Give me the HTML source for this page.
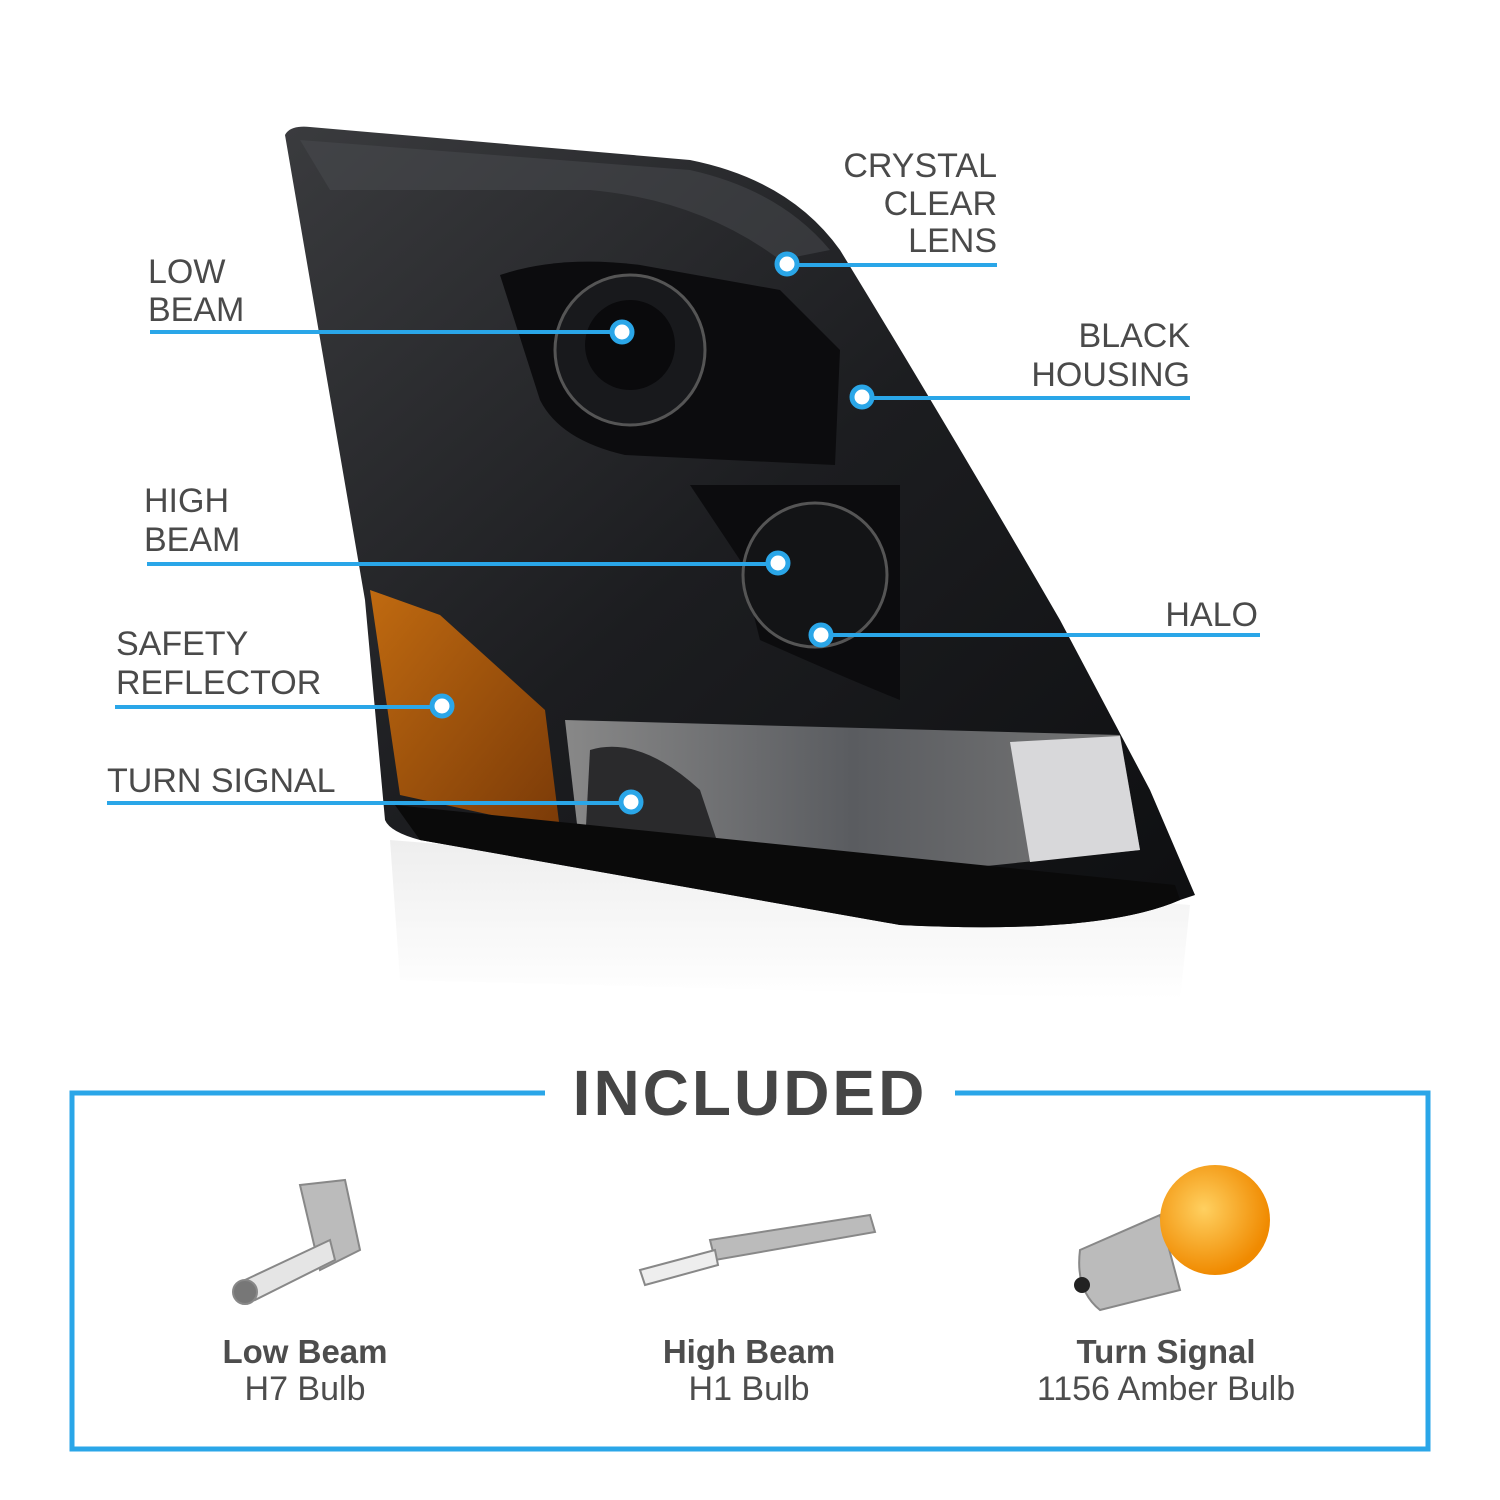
<!DOCTYPE html>
<html><head><meta charset="utf-8"><style>
body{margin:0;background:#fff;}
svg{display:block}
.l{font-family:"Liberation Sans",sans-serif;font-size:34px;fill:#4a4a4a;}
.b{font-family:"Liberation Sans",sans-serif;font-size:33px;font-weight:bold;fill:#4d4d4d;}
.n{font-family:"Liberation Sans",sans-serif;font-size:34px;fill:#4d4d4d;}
</style></head><body>
<svg width="1500" height="1500" viewBox="0 0 1500 1500" xmlns="http://www.w3.org/2000/svg">
<defs>
<linearGradient id="g1" x1="0" y1="0" x2="1" y2="1">
<stop offset="0" stop-color="#3a3b3e"/><stop offset="0.5" stop-color="#1c1d20"/><stop offset="1" stop-color="#0e0f11"/></linearGradient>
<linearGradient id="am" x1="0" y1="0" x2="1" y2="1"><stop offset="0" stop-color="#c06a10"/><stop offset="1" stop-color="#7a3a08"/></linearGradient>
<radialGradient id="ob" cx="0.4" cy="0.4" r="0.6"><stop offset="0" stop-color="#ffd060"/><stop offset="1" stop-color="#f08a00"/></radialGradient>
<linearGradient id="rf" x1="0" y1="0" x2="0" y2="1"><stop offset="0" stop-color="#eee"/><stop offset="1" stop-color="#fff"/></linearGradient>
<linearGradient id="cl" x1="0" y1="0" x2="1" y2="0"><stop offset="0" stop-color="#888"/><stop offset="0.5" stop-color="#5a5c60"/><stop offset="1" stop-color="#777"/></linearGradient>
</defs>
<path d="M390 840 L1190 905 L1180 1000 L400 980 Z" fill="url(#rf)"/>
<path d="M285 135 Q290 125 310 127 L690 160 Q790 180 840 250 Q950 430 1060 620 L1150 790 L1195 895 L1180 900 Q1100 935 900 925 L420 840 Q390 832 385 820 L365 600 Z" fill="url(#g1)"/>
<path d="M300 140 L690 170 Q780 190 830 250 L780 260 Q700 200 590 190 L330 190 Z" fill="#4a4c50" opacity="0.5"/>
<path d="M500 275 Q560 255 640 265 L780 290 L840 350 L835 465 L625 455 Q560 440 540 400 Z" fill="#0c0c0e"/>
<circle cx="630" cy="350" r="75" fill="#18191c" stroke="#555" stroke-width="3"/>
<circle cx="630" cy="345" r="45" fill="#0a0a0c"/>
<path d="M690 485 L900 485 L900 700 Q850 680 760 640 L740 560 Z" fill="#0c0c0e"/>
<circle cx="815" cy="575" r="72" fill="#131416" stroke="#555" stroke-width="3"/>
<path d="M370 590 L440 615 L545 710 L560 830 L400 795 Z" fill="url(#am)"/>
<path d="M565 720 L1120 735 L1140 850 L900 875 L580 850 Z" fill="url(#cl)"/>
<path d="M1010 742 L1120 736 L1140 850 L1030 862 Z" fill="#d8d8da"/>
<path d="M590 750 Q640 735 700 790 L720 850 L585 845 Z" fill="#2a2a2c"/>
<path d="M395 805 L1175 885 L1180 900 Q1100 935 900 925 L420 840 Z" fill="#0a0a0a"/>
<g stroke="#2aa6e8" stroke-width="4" fill="none">
<line x1="150" y1="332" x2="622" y2="332"/>
<line x1="787" y1="265" x2="997" y2="265"/>
<line x1="862" y1="398" x2="1190" y2="398"/>
<line x1="147" y1="564" x2="778" y2="564"/>
<line x1="821" y1="635" x2="1260" y2="635"/>
<line x1="115" y1="707" x2="442" y2="707"/>
<line x1="107" y1="803" x2="631" y2="803"/>
</g>
<g fill="#fff" stroke="#2aa6e8" stroke-width="5">
<circle cx="622" cy="332" r="10"/><circle cx="787" cy="264" r="10"/>
<circle cx="862" cy="397" r="10"/><circle cx="778" cy="563" r="10"/>
<circle cx="821" cy="635" r="10"/><circle cx="442" cy="706" r="10"/>
<circle cx="631" cy="802" r="10"/>
</g>
<text class="l" x="148" y="283">LOW</text><text class="l" x="148" y="321">BEAM</text>
<g text-anchor="end"><text class="l" x="997" y="177">CRYSTAL</text><text class="l" x="997" y="215">CLEAR</text><text class="l" x="997" y="252">LENS</text>
<text class="l" x="1190" y="347">BLACK</text><text class="l" x="1190" y="386">HOUSING</text>
<text class="l" x="1258" y="626">HALO</text></g>
<text class="l" x="144" y="512">HIGH</text><text class="l" x="144" y="551">BEAM</text>
<text class="l" x="116" y="655">SAFETY</text><text class="l" x="116" y="694">REFLECTOR</text>
<text class="l" x="107" y="792">TURN SIGNAL</text>
<rect x="72" y="1093" width="1356" height="356" fill="none" stroke="#2aa6e8" stroke-width="5"/>
<rect x="545" y="1070" width="410" height="50" fill="#fff"/>
<text x="750" y="1115" text-anchor="middle" font-family="Liberation Sans,sans-serif" font-weight="bold" font-size="64" letter-spacing="3" fill="#454545">INCLUDED</text>
<g fill="#bbb" stroke="#888" stroke-width="2">
<path d="M300 1185 L345 1180 L360 1250 L320 1270 Z"/>
<path d="M245 1280 L330 1240 L335 1260 L255 1300 Z" fill="#e5e5e5"/>
<circle cx="245" cy="1292" r="12" fill="#777"/>
<path d="M710 1240 L870 1215 L875 1232 L715 1260 Z"/>
<path d="M640 1270 L715 1250 L718 1265 L645 1285 Z" fill="#eee"/>
<path d="M1080 1250 L1160 1215 L1180 1290 L1100 1310 Q1075 1290 1080 1250 Z"/>
</g>
<circle cx="1215" cy="1220" r="55" fill="url(#ob)"/>
<circle cx="1082" cy="1285" r="8" fill="#222"/>
<g text-anchor="middle">
<text class="b" x="305" y="1363">Low Beam</text><text class="n" x="305" y="1400">H7 Bulb</text>
<text class="b" x="749" y="1363">High Beam</text><text class="n" x="749" y="1400">H1 Bulb</text>
<text class="b" x="1166" y="1363">Turn Signal</text><text class="n" x="1166" y="1400" font-size="36">1156 Amber Bulb</text>
</g>
</svg>
</body></html>
